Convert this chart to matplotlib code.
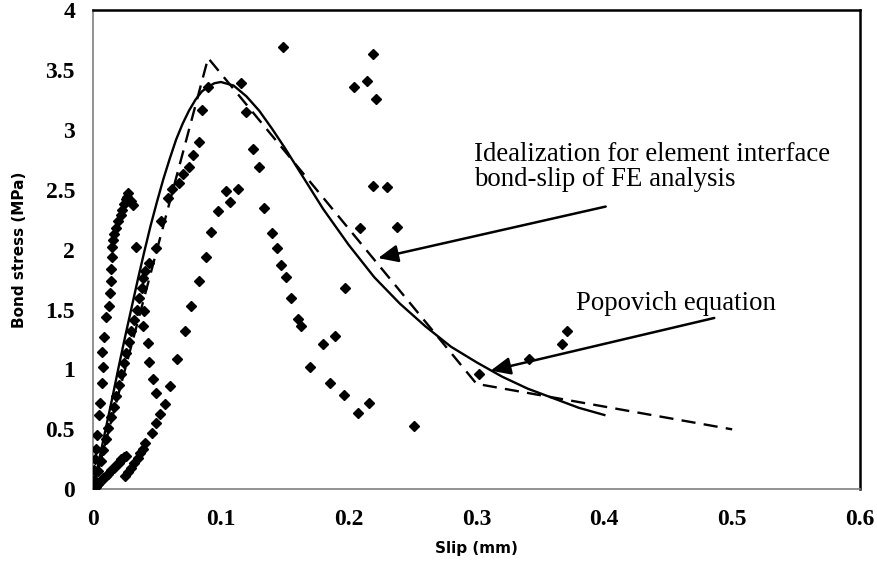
import numpy as np
import matplotlib.pyplot as plt

# Popovich equation curve
slip_pop = [0, 0.005, 0.01, 0.015, 0.02, 0.025, 0.03, 0.035, 0.04, 0.045,
            0.05, 0.055, 0.06, 0.065, 0.07, 0.075, 0.08, 0.085, 0.09, 0.095,
            0.10, 0.11, 0.12, 0.13, 0.14, 0.15, 0.16, 0.17, 0.18, 0.19,
            0.20, 0.22, 0.24, 0.26, 0.28, 0.30, 0.32, 0.34, 0.36, 0.38, 0.40]
stress_pop = [0, 0.26, 0.51, 0.76, 1.02, 1.27, 1.51, 1.75, 1.98, 2.20,
              2.40, 2.59, 2.76, 2.92, 3.05, 3.16, 3.25, 3.32, 3.36, 3.39,
              3.40, 3.37, 3.28, 3.16, 3.01, 2.85, 2.68, 2.51, 2.34, 2.19,
              2.04, 1.77, 1.55, 1.36, 1.19, 1.06, 0.94, 0.84, 0.76, 0.68, 0.62]

# idealized (FE) multi-linear bond-slip
slip_fe = [0, 0.09, 0.30, 0.50]
stress_fe = [0, 3.60, 0.88, 0.50]

# test points
slip_test = [
    # steep specimen near the axis
    0.000, 0.001, 0.0008, 0.0016, 0.0024, 0.0031, 0.005, 0.0055, 0.007, 0.0079,
    0.0071, 0.0086, 0.010, 0.0126, 0.013, 0.014, 0.0141, 0.0149, 0.0149, 0.0157,
    0.0165, 0.018, 0.0196, 0.022, 0.0228, 0.0243, 0.026, 0.0275, 0.030, 0.031,
    0.0268, 0.0338,
    # band along the curves
    0.002, 0.004, 0.006, 0.008, 0.010, 0.012, 0.014, 0.016, 0.018, 0.020,
    0.022, 0.024, 0.026, 0.028, 0.030, 0.032, 0.034, 0.036, 0.038, 0.039,
    0.041, 0.044, 0.049, 0.0535, 0.059, 0.062, 0.067, 0.070, 0.075, 0.078,
    0.083, 0.085, 0.090, 0.116, 0.120, 0.125, 0.130, 0.134, 0.140, 0.144,
    0.147, 0.151, 0.155, 0.160, 0.163, 0.170, 0.180, 0.189, 0.185, 0.196,
    0.207, 0.216,
    # column near 0.045
    0.040, 0.039, 0.043, 0.044, 0.047, 0.049,
    # concave rising specimen
    0.025, 0.027, 0.030, 0.032, 0.035, 0.037, 0.039, 0.041, 0.046, 0.049,
    0.052, 0.056, 0.060, 0.066, 0.072, 0.077, 0.083, 0.088, 0.092, 0.098,
    0.104, 0.107, 0.113,
    # shallow line at origin
    0.002, 0.004, 0.006, 0.008, 0.010, 0.012, 0.014, 0.016, 0.018, 0.020,
    0.022, 0.024, 0.026,
    # scattered on the right
    0.1485, 0.219, 0.204, 0.214, 0.221, 0.219, 0.230, 0.209, 0.238, 0.197,
    0.251, 0.302, 0.341, 0.367, 0.371,
]
stress_test = [
    0.00, 0.08, 0.16, 0.25, 0.34, 0.45, 0.62, 0.72, 0.89, 1.02,
    1.15, 1.27, 1.44, 1.53, 1.64, 1.74, 1.84, 1.94, 2.02, 2.08,
    2.13, 2.18, 2.24, 2.29, 2.33, 2.38, 2.42, 2.47, 2.41, 2.37,
    2.44, 2.02,
    0.06, 0.15, 0.24, 0.33, 0.42, 0.51, 0.60, 0.69, 0.78, 0.87,
    0.96, 1.05, 1.14, 1.23, 1.32, 1.41, 1.50, 1.60, 1.68, 1.76,
    1.82, 1.89, 2.01, 2.24, 2.43, 2.51, 2.56, 2.63, 2.69, 2.79,
    2.90, 3.17, 3.36, 3.39, 3.15, 2.84, 2.69, 2.35, 2.14, 2.01,
    1.87, 1.77, 1.60, 1.42, 1.36, 1.02, 1.21, 1.28, 0.89, 0.79,
    0.64, 0.72,
    1.49, 1.36, 1.22, 1.06, 0.92, 0.80,
    0.11, 0.14, 0.18, 0.22, 0.26, 0.30, 0.34, 0.39, 0.47, 0.55,
    0.63, 0.71, 0.86, 1.09, 1.32, 1.53, 1.74, 1.94, 2.15, 2.32,
    2.49, 2.40, 2.51,
    0.02, 0.04, 0.07, 0.09, 0.11, 0.13, 0.16, 0.18, 0.20, 0.22,
    0.25, 0.27, 0.28,
    3.69, 3.63, 3.36, 3.41, 3.26, 2.53, 2.52, 2.18, 2.19, 1.68,
    0.53, 0.96, 1.09, 1.21, 1.32,
]

fig = plt.figure(figsize=(8.78, 5.63), dpi=100)
ax = fig.add_axes([0.106, 0.131, 0.8735, 0.851])

ax.plot(slip_test, stress_test, 'D', color='black', markersize=5.3, zorder=3)
ax.plot(slip_pop, stress_pop, '-', color='black', lw=1.7, zorder=4)
ax.plot(slip_fe, stress_fe, color='black', lw=1.7, linestyle=(0, (6, 3.5)), zorder=4)

ax.set_xlim(0, 0.6)
ax.set_ylim(0, 4)
ax.set_xticks([0, 0.1, 0.2, 0.3, 0.4, 0.5, 0.6])
ax.set_xticklabels(['0', '0.1', '0.2', '0.3', '0.4', '0.5', '0.6'])
ax.set_yticks([0, 0.5, 1, 1.5, 2, 2.5, 3, 3.5, 4])
ax.set_yticklabels(['0', '0.5', '1', '1.5', '2', '2.5', '3', '3.5', '4'])
ax.tick_params(length=0)
ax.tick_params(axis='x', pad=14)
ax.tick_params(axis='y', pad=13)
for lab in ax.get_xticklabels() + ax.get_yticklabels():
    lab.set_fontfamily('Liberation Serif')
    lab.set_fontweight('bold')
    lab.set_fontsize(17)

for s in ['left', 'bottom']:
    ax.spines[s].set_color('#7f7f7f')
    ax.spines[s].set_linewidth(1.2)
for s in ['top', 'right']:
    ax.spines[s].set_color('black')
    ax.spines[s].set_linewidth(1.8)

ax.set_xlabel('Slip (mm)', fontsize=11, fontweight='bold', labelpad=8)
ax.set_ylabel('Bond stress (MPa)', fontsize=11, fontweight='bold', labelpad=13)

# annotations
ax.text(0.298, 2.69, 'Idealization for element interface\nbond-slip of FE analysis',
        fontfamily='Liberation Serif', fontsize=19.3, ha='left', va='center', linespacing=1.0)
ax.annotate('', xy=(0.223, 1.93), xytext=(0.401, 2.36),
            arrowprops=dict(arrowstyle='-|>,head_length=0.5,head_width=0.22', color='black',
                            lw=1.8, mutation_scale=24, shrinkA=0, shrinkB=0))
ax.text(0.378, 1.55, 'Popovich equation', fontfamily='Liberation Serif', fontsize=19.3,
        ha='left', va='center')
ax.annotate('', xy=(0.311, 0.99), xytext=(0.486, 1.43),
            arrowprops=dict(arrowstyle='-|>,head_length=0.5,head_width=0.22', color='black',
                            lw=1.8, mutation_scale=24, shrinkA=0, shrinkB=0))

fig.savefig('out.png', dpi=100)
